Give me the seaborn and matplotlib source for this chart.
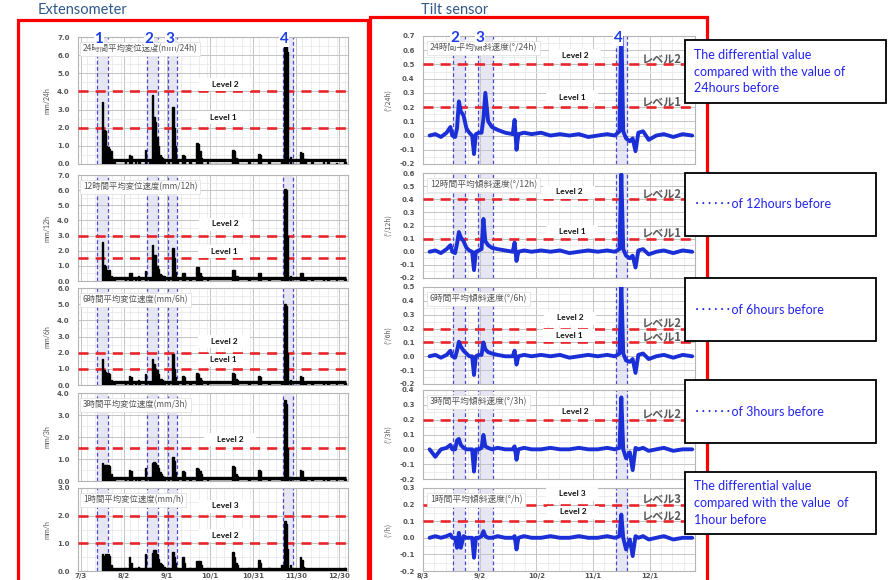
import matplotlib
matplotlib.use("Agg")
import matplotlib.pyplot as plt
import matplotlib.patches as patches
import matplotlib.transforms as mtransforms
from matplotlib.ticker import FixedLocator, MultipleLocator, FormatStrFormatter
import seaborn as sns


# ---------------------------------------------------------
# Extensometer data (day 0 = 7/1)
# ---------------------------------------------------------

ext_days = [17, 18, 19, 20, 21, 22, 23, 24, 25, 33, 36, 37, 40, 42, 43, 47, 50,
            52, 53, 54, 55, 56, 57, 58, 59, 60, 63, 66, 67, 68, 69, 73, 74, 78,
            83, 84, 85, 86, 90, 108, 109, 110, 111, 119, 126, 127, 133, 142,
            144, 145, 146, 148, 155, 156, 157, 158, 163, 171, 174, 180, 186]

ext_24h = [3.4, 1.85, 1.8, 1.0, 0.95, 0.8, 0.7, 0.3, 0.1, 0.15, 0.5, 0.45, 0.15, 0.25, 0.2, 0.75, 0.1,
           3.8, 2.6, 2.3, 1.5, 1.0, 0.5, 0.4, 0.35, 0.3, 0.2, 3.15, 2.0, 1.0, 0.3, 0.5, 0.45, 0.1,
           1.15, 1.1, 0.7, 0.35, 0.1, 0.75, 0.7, 0.35, 0.3, 0.12, 0.55, 0.5, 0.12, 0.2,
           6.6, 6.5, 6.2, 0.4, 0.65, 0.6, 0.3, 0.25, 0.1, 0.1, 0.1, 0.05, 0.12]

ext_12h = [2.6, 1.05, 1.0, 0.75, 0.7, 0.7, 0.3, 0.15, 0.1, 0.15, 0.55, 0.5, 0.15, 0.3, 0.2, 0.65, 0.1,
           2.4, 1.7, 1.7, 1.0, 0.8, 0.45, 0.4, 0.35, 0.3, 0.15, 2.2, 1.5, 0.6, 0.2, 0.55, 0.5, 0.1,
           0.95, 0.9, 0.5, 0.3, 0.1, 0.75, 0.7, 0.35, 0.3, 0.1, 0.55, 0.5, 0.12, 0.2,
           6.1, 6.0, 3.0, 0.3, 0.55, 0.5, 0.2, 0.15, 0.1, 0.1, 0.1, 0.05, 0.1]

ext_6h = [1.6, 0.9, 0.8, 0.75, 0.75, 0.7, 0.3, 0.15, 0.1, 0.15, 0.55, 0.5, 0.15, 0.3, 0.2, 0.65, 0.1,
          1.6, 1.3, 1.0, 0.9, 0.7, 0.4, 0.35, 0.3, 0.25, 0.15, 1.9, 1.0, 0.5, 0.2, 0.55, 0.5, 0.1,
          0.75, 0.7, 0.45, 0.3, 0.1, 0.75, 0.7, 0.35, 0.3, 0.1, 0.55, 0.5, 0.1, 0.2,
          5.0, 4.9, 2.0, 0.3, 0.55, 0.5, 0.2, 0.15, 0.1, 0.1, 0.1, 0.05, 0.1]

ext_3h = [0.82, 0.75, 0.75, 0.75, 0.75, 0.7, 0.3, 0.15, 0.1, 0.1, 0.5, 0.45, 0.1, 0.2, 0.15, 0.6, 0.1,
          0.8, 0.85, 0.8, 0.75, 0.6, 0.4, 0.3, 0.25, 0.2, 0.1, 1.1, 0.9, 0.4, 0.15, 0.45, 0.4, 0.1,
          0.6, 0.55, 0.45, 0.3, 0.1, 0.7, 0.65, 0.3, 0.25, 0.1, 0.5, 0.45, 0.1, 0.2,
          3.7, 3.5, 1.5, 0.2, 0.5, 0.45, 0.15, 0.1, 0.08, 0.08, 0.08, 0.05, 0.1]

ext_1h = [0.6, 0.55, 0.6, 0.5, 0.6, 0.55, 0.2, 0.1, 0.05, 0.1, 0.5, 0.3, 0.1, 0.15, 0.1, 0.6, 0.1,
          0.65, 0.75, 0.75, 0.6, 0.45, 0.3, 0.25, 0.2, 0.15, 0.1, 0.7, 0.5, 0.3, 0.1, 0.5, 0.3, 0.1,
          0.35, 0.35, 0.35, 0.2, 0.1, 0.7, 0.5, 0.3, 0.2, 0.1, 0.4, 0.3, 0.1, 0.2,
          1.8, 1.7, 0.8, 0.2, 0.5, 0.4, 0.15, 0.1, 0.08, 0.08, 0.08, 0.05, 0.1]

ext_titles = ["24時間平均変位速度(mm/24h)", "12時間平均変位速度(mm/12h)",
              "6時間平均変位速度(mm/6h)", "3時間平均変位速度(mm/3h)",
              "1時間平均変位速度(mm/h)"]
ext_ylabels = ["mm/24h", "mm/12h", "mm/6h", "mm/3h", "mm/h"]
ext_ytop = [7, 7, 6, 4, 3]
ext_levels = [[4.0, 2.0], [3.0, 1.5], [2.0, 1.0], [1.5], [2.0, 1.0]]
ext_level_names = [["Level 2", "Level 1"], ["Level 2", "Level 1"],
                   ["Level 2", "Level 1"], ["Level 2"], ["Level 3", "Level 2"]]
ext_ticks = [2, 32, 62, 92, 122, 152, 182]
ext_tick_labels = ["7/3", "8/2", "9/1", "10/1", "10/31", "11/30", "12/30"]
ext_bands = [(13.3, 20.9), (48.1, 55.8), (62.8, 69.1), (142.4, 150.0)]
ext_band_names = ["1", "2", "3", "4"]


# ---------------------------------------------------------
# Tilt sensor data (day 0 = 8/3)
# ---------------------------------------------------------

tilt_days = [3.5, 6.5, 9.5, 12.5, 14.5, 15.5, 17, 18, 19, 20, 21.5, 23, 24.5, 26,
             27, 28, 29.5, 31, 32, 33, 34.5, 36.5, 39.5, 43.5, 47.5, 48.5, 49.5, 50.5,
             53.5, 57.5, 62.5, 67.5, 72.5, 77.5, 82.5, 87.5, 92.5, 97.5, 101.5, 104, 105, 106,
             107.5, 109.5, 111, 112.5, 114, 116.5, 119.5, 123.5, 127.5, 132.5, 137.5, 142.5]

tilt_24h = [0.0, 0.01, -0.01, 0.02, 0.06, 0.0, -0.01, 0.05, 0.24, 0.17, 0.14, 0.05, 0.02, 0.0,
            -0.13, 0.01, 0.02, 0.02, 0.12, 0.30, 0.10, 0.06, 0.04, 0.02, 0.01, 0.11, -0.10, 0.01,
            0.02, 0.01, 0.02, 0.0, 0.01, 0.0, 0.01, -0.01, 0.0, 0.01, 0.0, 0.03, 0.78, 0.03,
            -0.02, -0.04, -0.02, -0.11, 0.02, 0.03, -0.03, 0.0, 0.01, -0.01, 0.01, 0.0]

tilt_12h = [0.0, 0.01, -0.01, 0.02, 0.05, 0.0, -0.01, 0.06, 0.15, 0.11, 0.08, 0.03, 0.01, 0.0,
            -0.14, 0.0, 0.01, 0.02, 0.25, 0.08, 0.05, 0.03, 0.02, 0.01, 0.0, 0.07, -0.07, 0.0,
            0.01, 0.0, 0.01, 0.0, 0.01, -0.01, 0.0, 0.01, 0.0, 0.01, 0.0, 0.02, 0.59, 0.02,
            -0.03, -0.05, -0.03, -0.12, 0.01, 0.02, -0.02, 0.0, 0.01, -0.01, 0.01, 0.0]

tilt_6h = [0.0, 0.01, -0.01, 0.01, 0.04, 0.0, -0.01, 0.04, 0.105, 0.07, 0.04, 0.02, 0.0, 0.0,
           -0.135, 0.0, 0.01, 0.01, 0.10, 0.05, 0.03, 0.02, 0.01, 0.0, 0.0, 0.04, -0.06, 0.0,
           0.01, 0.0, 0.01, 0.0, 0.01, -0.01, 0.0, 0.01, 0.0, 0.01, 0.0, 0.02, 0.52, 0.02,
           -0.03, -0.04, -0.02, -0.12, 0.01, 0.02, -0.02, 0.0, 0.01, -0.01, 0.01, 0.0]

tilt_3h = [0.0, -0.05, 0.0, 0.01, 0.03, 0.0, 0.0, 0.06, 0.07, 0.03, 0.01, 0.0, 0.0, 0.0,
           -0.15, 0.0, 0.0, 0.01, 0.097, 0.02, 0.01, 0.0, 0.01, 0.0, 0.0, 0.02, -0.07, 0.0,
           0.01, 0.0, 0.0, 0.01, 0.0, 0.0, 0.01, 0.0, 0.0, 0.01, 0.0, 0.01, 0.35, 0.0,
           -0.06, -0.02, -0.14, 0.01, 0.0, 0.01, -0.01, 0.0, 0.01, -0.01, 0.0, 0.0]

tilt_1h = [0.0, 0.01, 0.0, 0.01, 0.02, 0.0, 0.0, -0.06, 0.03, -0.06, 0.01, 0.0, 0.0, 0.0,
           -0.12, 0.0, 0.0, 0.01, 0.04, 0.01, 0.0, 0.0, 0.01, 0.0, 0.0, 0.01, -0.07, 0.0,
           0.01, 0.0, 0.0, 0.01, 0.0, 0.0, 0.01, 0.0, 0.0, 0.01, 0.0, 0.01, 0.14, 0.0,
           -0.07, -0.01, -0.11, 0.01, 0.0, 0.01, -0.01, 0.0, 0.01, -0.01, 0.0, 0.0]

tilt_titles = ["24時間平均傾斜速度(°/24h)", "12時間平均傾斜速度(°/12h)",
               "6時間平均傾斜速度(°/6h)", "3時間平均傾斜速度(°/3h)",
               "1時間平均傾斜速度(°/h)"]
tilt_ylabels = ["(°/24h)", "(°/12h)", "(°/6h)", "(°/3h)", "(°/h)"]
tilt_ytop = [0.7, 0.6, 0.5, 0.4, 0.3]
tilt_levels = [[0.5, 0.2], [0.4, 0.1], [0.2, 0.1], [0.2], [0.2, 0.1]]
tilt_level_names = ext_level_names
tilt_level_jp = [["レベル2", "レベル1"], ["レベル2", "レベル1"],
                 ["レベル2", "レベル1"], ["レベル2"], ["レベル3", "レベル2"]]
tilt_ticks = [0, 30, 60, 90, 120]
tilt_tick_labels = ["8/3", "9/2", "10/2", "11/1", "12/1"]
tilt_bands = [(15.9, 22.2), (29.1, 37.1), (102.2, 108.0)]
tilt_band_names = ["2", "3", "4"]

note_texts = ["The differential value\ncompared with the value of\n24hours before",
              "･･････of 12hours before",
              "･･････of 6hours before",
              "･･････of 3hours before",
              "The differential value\ncompared with the value  of\n1hour before"]


# ---------------------------------------------------------
# Layout (pixels of a 895 x 580 figure)
# ---------------------------------------------------------

W, H = 895, 580

ext_rects = [(78, 37, 348, 164), (78, 175, 348, 281), (78, 288, 348, 385),
             (78, 393, 348, 481), (78, 488, 348, 571)]
tilt_rects = [(423, 36, 695, 164), (423, 173, 695, 278), (423, 287, 695, 384),
              (423, 390, 695, 479), (423, 488, 695, 571)]

ext_label_px = [[(225, 84), (223, 117)], [(225, 224), (224, 251)],
                [(224, 341), (223, 360)], [(230, 439)], [(225, 506), (225, 535)]]
tilt_label_px = [[(575, 55), (572, 97)], [(569, 192), (572, 231)],
                 [(570, 318), (569, 335)], [(575, 412)], [(572, 494), (573, 512)]]

note_boxes = [(685, 40, 886, 103), (685, 173, 876, 236), (685, 278, 876, 341),
              (685, 380, 876, 443), (685, 472, 876, 534)]

RED = "#e8252b"
BLUE_LINE = "#1b2fd6"
BAND_EDGE = "#4a4ad0"
CJK = ["Noto Sans CJK JP", "DejaVu Sans"]
LAT = ["Lato", "Noto Sans CJK JP"]


def px_rect(r):

    x0, y0, x1, y1 = r

    return [x0 / W, 1 - y1 / H, (x1 - x0) / W, (y1 - y0) / H]


def style_axes(ax, ytop, ybottom, ystep, ticks, tick_labels, xlim, bottom):

    ax.set_xlim(*xlim)
    ax.set_ylim(ybottom, ytop)

    ax.xaxis.set_major_locator(FixedLocator(ticks))
    ax.xaxis.set_minor_locator(MultipleLocator(6))
    ax.yaxis.set_major_locator(MultipleLocator(ystep))
    ax.yaxis.set_minor_locator(MultipleLocator(ystep / 2))
    ax.yaxis.set_major_formatter(FormatStrFormatter("%.1f"))

    ax.grid(which="major", color="#c4c4c4", lw=0.7)
    ax.grid(which="minor", color="#e6e6e6", lw=0.5)
    ax.set_axisbelow(True)

    ax.tick_params(axis="y", which="both", length=0, labelsize=5,
                   labelcolor="#555555", pad=6)
    ax.tick_params(axis="x", which="both", length=0, labelsize=5,
                   labelcolor="#555555", pad=1.5)

    for lab in ax.get_yticklabels():
        lab.set_fontweight("bold")
        lab.set_family("DejaVu Sans")

    if bottom:
        ax.set_xticklabels(tick_labels, family="DejaVu Sans", fontweight="bold")
    else:
        ax.tick_params(labelbottom=False)

    for sp in ax.spines.values():
        sp.set_color("#b5b5b5")
        sp.set_linewidth(0.8)


def draw_bands(ax, bands):

    for a, b in bands:
        ax.axvspan(a, b, color="#dcdcf3", alpha=0.7, lw=0, zorder=0.5)
        for edge in (a, b):
            ax.axvline(edge, color=BAND_EDGE, lw=0.9, ls=(0, (3, 2)), zorder=2)


def draw_band_names(ax, bands, names):

    trans = mtransforms.blended_transform_factory(ax.transData, ax.transAxes)

    for (a, b), name in zip(bands, names):
        ax.text(a + 1.2, 0.985, name, transform=trans, ha="center", va="center",
                color="#1f3fe6", fontsize=11, fontweight="bold", family=LAT,
                bbox=dict(fc="white", ec="none", pad=0.4), zorder=7)


def add_title(ax, title, dx, size):

    ax.annotate(title, xy=(0, 1), xycoords="axes fraction",
                xytext=(dx, -8.5), textcoords="offset points",
                ha="left", va="center", fontsize=size, color="#555555",
                family=CJK, zorder=6,
                bbox=dict(boxstyle="square,pad=0.3", fc="white",
                          ec="#dddddd", lw=0.5))


def add_level_label(fig, text, x, y):

    fig.patches.append(patches.Rectangle(
        ((x - 26) / W, 1 - (y + 6.5) / H), 52 / W, 13 / H,
        transform=fig.transFigure, fc="white", ec="none", zorder=2))

    fig.text(x / W, 1 - y / H, text, ha="center", va="center",
             fontsize=6, fontweight="bold", color="#111111", family=LAT, zorder=3)


# ---------------------------------------------------------
# Figure
# ---------------------------------------------------------

sns.set_style("white")
plt.rcParams["font.family"] = LAT

fig = plt.figure(figsize=(W / 100, H / 100), dpi=100)

ext_series = [ext_24h, ext_12h, ext_6h, ext_3h, ext_1h]
tilt_series = [tilt_24h, tilt_12h, tilt_6h, tilt_3h, tilt_1h]

for i in range(5):

    # Extensometer panel
    ax = fig.add_axes(px_rect(ext_rects[i]))

    draw_bands(ax, ext_bands)

    sns.histplot(x=ext_days, weights=ext_series[i], discrete=True,
                 color="black", alpha=1, edgecolor="black", linewidth=1.0,
                 ax=ax, zorder=4)

    ax.hlines(0.03 * ext_ytop[i], ext_days[0] - 0.5, ext_days[-1] + 0.5,
              color="black", lw=2.4, zorder=4)

    for lv in ext_levels[i]:
        ax.axhline(lv, color=RED, lw=1.9, ls=(0, (3.8, 2.7)), zorder=3)

    style_axes(ax, ext_ytop[i], 0, 1.0, ext_ticks, ext_tick_labels,
               (0, 188), i == 4)

    ax.set_ylabel(ext_ylabels[i], fontsize=5, color="#555555", labelpad=5)
    ax.set_xlabel("")

    add_title(ax, ext_titles[i], 3.5, 6.0)

    if i == 0:
        draw_band_names(ax, ext_bands, ext_band_names)

    for name, (x, y) in zip(ext_level_names[i], ext_label_px[i]):
        add_level_label(fig, name, x, y)

    # Tilt sensor panel
    ax = fig.add_axes(px_rect(tilt_rects[i]))

    draw_bands(ax, tilt_bands)

    sns.lineplot(x=tilt_days, y=tilt_series[i], color=BLUE_LINE, lw=2.8,
                 ax=ax, zorder=4)

    for lv, jp in zip(tilt_levels[i], tilt_level_jp[i]):
        ax.axhline(lv, color=RED, lw=1.9, ls=(0, (3.8, 2.7)), zorder=3)
        trans = mtransforms.blended_transform_factory(ax.transAxes, ax.transData)
        ax.annotate(jp, xy=(0.805, lv), xycoords=trans,
                    xytext=(0, 4), textcoords="offset points",
                    ha="left", va="center", fontsize=8, fontweight="bold",
                    color="#5a5a5a", family=CJK, zorder=5,
                    annotation_clip=False)

    style_axes(ax, tilt_ytop[i], -0.2, 0.1, tilt_ticks, tilt_tick_labels,
               (0, 144), i == 4)

    ax.set_ylabel(tilt_ylabels[i], fontsize=5, color="#555555", labelpad=5,
                  family=CJK)

    add_title(ax, tilt_titles[i], 5, 6.3)

    if i == 0:
        draw_band_names(ax, tilt_bands, tilt_band_names)

    for name, (x, y) in zip(tilt_level_names[i], tilt_label_px[i]):
        add_level_label(fig, name, x, y)


# ---------------------------------------------------------
# Frames, headings and notes
# ---------------------------------------------------------

fig.patches.append(patches.Rectangle(
    (18 / W, -0.05), 350 / W, 1.05 - 20 / H, transform=fig.transFigure,
    fill=False, ec="#ff0000", lw=2.3, zorder=8))

fig.patches.append(patches.Rectangle(
    (370 / W, -0.05), 337 / W, 1.05 - 17 / H, transform=fig.transFigure,
    fill=False, ec="#ff0000", lw=2.3, zorder=8))

fig.text(38 / W, 1 - 10 / H, "Extensometer", ha="left", va="center",
         fontsize=10.5, color="#30598a", family=LAT)

fig.text(421 / W, 1 - 10 / H, "Tilt sensor", ha="left", va="center",
         fontsize=10.5, color="#30598a", family=LAT)

for (x0, y0, x1, y1), txt in zip(note_boxes, note_texts):

    fig.patches.append(patches.Rectangle(
        (x0 / W, 1 - y1 / H), (x1 - x0) / W, (y1 - y0) / H,
        transform=fig.transFigure, fc="white", ec="black", lw=1.3, zorder=9))

    fig.text((x0 + 9) / W, 1 - (y0 + y1) / 2 / H, txt, ha="left", va="center",
             fontsize=9, color="#2323f0", family=LAT, linespacing=1.45,
             zorder=10)

fig.savefig("out.png", dpi=100)
